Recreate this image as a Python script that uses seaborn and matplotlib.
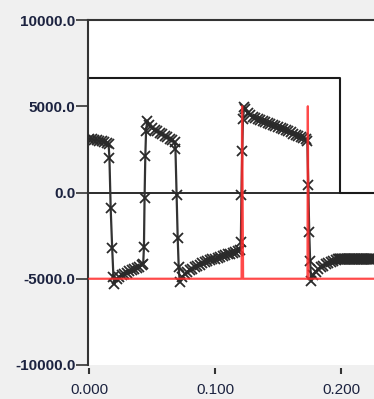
import matplotlib
matplotlib.use("Agg")
import matplotlib.pyplot as plt
import seaborn as sns
import pandas as pd

# ---- data ----
t_black = [0.000, 0.002, 0.004, 0.006, 0.008, 0.010, 0.012, 0.014, 0.0155,
           0.0162, 0.0172, 0.0184, 0.0194, 0.0202,
           0.022, 0.024, 0.026, 0.028, 0.030, 0.032, 0.034, 0.036, 0.038, 0.040, 0.042, 0.043,
           0.0436, 0.0441, 0.0447, 0.0453, 0.0462,
           0.048, 0.050, 0.052, 0.054, 0.056, 0.058, 0.060, 0.062, 0.064, 0.066, 0.068,
           0.0686, 0.0695, 0.0704, 0.0712, 0.0720,
           0.074, 0.076, 0.078, 0.080, 0.082, 0.084, 0.086, 0.088, 0.090, 0.092, 0.094, 0.096,
           0.098, 0.100, 0.102, 0.104, 0.106, 0.108, 0.110, 0.112, 0.114, 0.116, 0.118, 0.120,
           0.1205, 0.1210, 0.1216, 0.1222, 0.1232,
           0.124, 0.126, 0.128, 0.130, 0.132, 0.134, 0.136, 0.138, 0.140, 0.142, 0.144, 0.146,
           0.148, 0.150, 0.152, 0.154, 0.156, 0.158, 0.160, 0.162, 0.164, 0.166, 0.168, 0.170,
           0.172, 0.1733,
           0.1740, 0.1748, 0.1755, 0.1763,
           0.178, 0.180, 0.182, 0.184, 0.186, 0.188, 0.190, 0.192, 0.194, 0.196, 0.198,
           0.1985, 0.1990, 0.1995, 0.2000, 0.2005, 0.2010, 0.2015, 0.2020, 0.2025, 0.2030,
           0.2035, 0.2040, 0.2045, 0.2050, 0.2055, 0.2060, 0.2065, 0.2070, 0.2075, 0.2080,
           0.2085, 0.2090, 0.2095, 0.2100, 0.2105, 0.2110, 0.2115, 0.2120, 0.2125, 0.2130,
           0.2135, 0.2140, 0.2145, 0.2150, 0.2155, 0.2160, 0.2165, 0.2170, 0.2175, 0.2180,
           0.2185, 0.2190, 0.2195, 0.2200, 0.2205, 0.2210, 0.2215, 0.2220, 0.2225, 0.2230,
           0.2235, 0.2240, 0.2245, 0.2250, 0.2255, 0.2260]
v_black = [3100, 3080, 3060, 3030, 3000, 2970, 2930, 2890, 2830,
           2020, -920, -3240, -4900, -5300,
           -5000, -4880, -4790, -4710, -4640, -4570, -4500, -4430, -4360, -4290, -4200, -4130,
           -3180, -290, 2140, 3580, 4160,
           3900, 3750, 3640, 3540, 3450, 3370, 3290, 3210, 3130, 3040, 2900,
           2540, -170, -2660, -4330, -5200,
           -4900, -4750, -4620, -4500, -4410, -4330, -4250, -4180, -4110, -4050, -3990, -3930,
           -3880, -3830, -3780, -3730, -3680, -3630, -3590, -3540, -3500, -3450, -3400, -3350,
           -2890, -170, 2430, 4280, 4950,
           4820, 4600, 4480, 4400, 4330, 4260, 4200, 4140, 4080, 4020, 3960, 3900,
           3840, 3780, 3720, 3660, 3600, 3540, 3480, 3420, 3360, 3300, 3240, 3170,
           3080, 2980,
           450, -2310, -3950, -5150,
           -4800, -4580, -4440, -4330, -4240, -4160, -4090, -4020, -3950, -3890, -3850,
           -3850, -3850, -3850, -3850, -3850, -3850, -3850, -3850, -3850, -3850,
           -3850, -3850, -3850, -3850, -3850, -3850, -3850, -3850, -3850, -3850,
           -3850, -3850, -3850, -3850, -3850, -3850, -3850, -3850, -3850, -3850,
           -3850, -3850, -3850, -3850, -3850, -3850, -3850, -3850, -3850, -3850,
           -3850, -3850, -3850, -3850, -3850, -3850, -3850, -3850, -3850, -3850,
           -3850, -3850, -3850, -3850, -3850, -3850]

t_red = [0.0, 0.1211, 0.1215, 0.1223, 0.1734, 0.1737, 0.1742, 0.2262]
v_red = [-5000, -5000, 5000, -5000, -5000, 5000, -5000, -5000]

t_step = [-0.0008, 0.1992, 0.1992, 0.2262]
v_step = [6650, 6650, 0, 0]

y_ticks = [-10000, -5000, 0, 5000, 10000]
y_labels = ["-10000.0", "-5000.0", "0.0", "5000.0", "10000.0"]
x_ticks = [0.0, 0.1, 0.2]
x_labels = ["0.000", "0.100", "0.200"]

# ---- style ----
sns.set_style("white")
plt.rcParams["font.family"] = ["Liberation Sans", "DejaVu Sans"]
TXT = "#1c2340"

fig = plt.figure(figsize=(3.74, 3.99), dpi=100, facecolor="#f0f0f0")
ax = fig.add_axes([88 / 374, 34 / 399, 286 / 374, 345 / 399])
ax.set_facecolor("white")

df_black = pd.DataFrame({"t": t_black, "v": v_black})
df_red = pd.DataFrame({"t": t_red, "v": v_red})
df_step = pd.DataFrame({"t": t_step, "v": v_step})

ax.axhline(0, color="#1a1a1a", lw=1.3, zorder=1)
sns.lineplot(data=df_step, x="t", y="v", ax=ax, color="#1a1a1a", lw=1.5,
             sort=False, estimator=None, zorder=2)
sns.lineplot(data=df_black, x="t", y="v", ax=ax, color="#333333", lw=1.6,
             marker="x", markersize=7, markeredgewidth=1.3,
             markeredgecolor="#2a2a2a", sort=False, estimator=None, zorder=3)
sns.lineplot(data=df_red, x="t", y="v", ax=ax, color="#ff2a2a", lw=1.6, alpha=0.85,
             sort=False, estimator=None, zorder=4)

ax.set_xlim(-0.0008, 0.2262)
ax.set_ylim(-10000, 10000)
ax.set_xlabel("")
ax.set_ylabel("")

ax.set_yticks(y_ticks)
ax.set_yticklabels(y_labels, fontweight="bold")
ax.set_xticks(x_ticks)
ax.set_xticklabels(x_labels, fontweight="bold")

ax.spines["right"].set_visible(False)
ax.spines["left"].set_color("#333333")
ax.spines["left"].set_linewidth(1.5)
ax.spines["top"].set_color("#333333")
ax.spines["top"].set_linewidth(1.5)
ax.spines["bottom"].set_position(("outward", 2.2))
ax.spines["bottom"].set_visible(False)

ax.tick_params(axis="y", direction="out", length=8.6, width=1.2, color="#333333",
               pad=0.5, labelsize=11, labelcolor=TXT, left=True)
ax.tick_params(axis="x", direction="out", length=4.3, width=1.5, color="#333333",
               pad=6.3, labelsize=11, labelcolor=TXT, bottom=True)

fig.savefig("out.png", dpi=100, facecolor=fig.get_facecolor())
